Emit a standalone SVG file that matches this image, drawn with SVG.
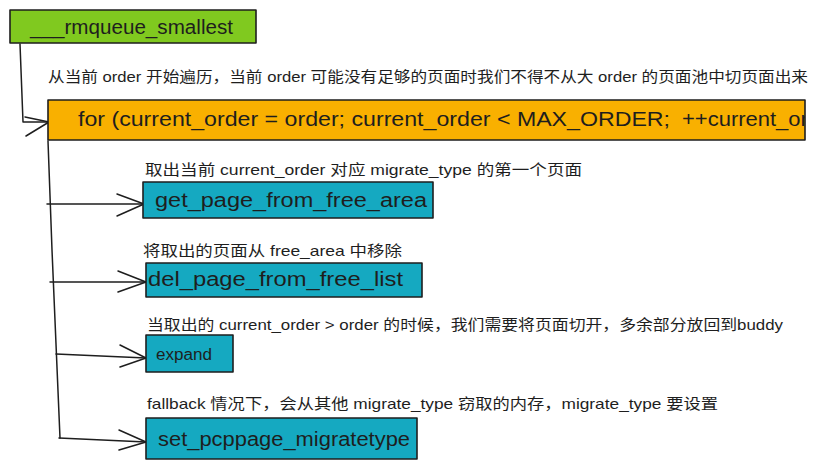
<svg xmlns="http://www.w3.org/2000/svg" width="815" height="469" viewBox="0 0 815 469">
<style>
.box{stroke:#1e1e1e;stroke-width:1.6;stroke-linejoin:round}
.green{fill:#80c91f}
.orange{fill:#f9b000}
.teal{fill:#15a9c1}
.code{font-family:"Liberation Sans","DejaVu Sans",sans-serif;font-size:20px;fill:#1e1e1e}
.small{font-size:16px}
.note{font-family:"Liberation Sans","Noto Sans CJK SC",sans-serif;font-size:15px;fill:#1e1e1e}
.conn{fill:none;stroke:#1e1e1e;stroke-width:1.5;stroke-linecap:round;stroke-linejoin:round}
</style>
<defs>
<clipPath id="clipFor"><rect x="48" y="100" width="757" height="40"/></clipPath>
</defs>
<rect width="815" height="469" fill="#ffffff"/>

<g id="connectors">
  <path class="conn" d="M20 44 L23 122 L49 122"/>
  <path class="conn" d="M25 117 L49 122 L26 136"/>
  <path class="conn" d="M48 141 L52 250 L60 438"/>
  <path class="conn" d="M47 204 L144 204"/>
  <path class="conn" d="M117 194 L144 204 L117 216"/>
  <path class="conn" d="M50 282 L146 282"/>
  <path class="conn" d="M118 271 L146 282 L118 292"/>
  <path class="conn" d="M56 354 L146 358"/>
  <path class="conn" d="M120 345 L146 358 L120 367"/>
  <path class="conn" d="M59 438 L146 442"/>
  <path class="conn" d="M119 430 L146 442 L119 450"/>
</g>

<g id="node-rmqueue-smallest">
  <rect class="box green" x="10" y="10" width="246" height="33"/>
  <text class="code" x="30" y="34" textLength="203" lengthAdjust="spacingAndGlyphs">___rmqueue_smallest</text>
</g>

<g id="note-order">
  <text class="note" x="48" y="82" textLength="760" lengthAdjust="spacingAndGlyphs">从当前 order 开始遍历，当前 order 可能没有足够的页面时我们不得不从大 order 的页面池中切页面出来</text>
</g>

<g id="node-for-loop">
  <rect class="box orange" x="48" y="100" width="757" height="40"/>
  <g clip-path="url(#clipFor)">
    <text class="code" y="126"><tspan x="78" textLength="592" lengthAdjust="spacingAndGlyphs">for (current_order = order; current_order &lt; MAX_ORDER;</tspan><tspan x="682" textLength="165" lengthAdjust="spacingAndGlyphs">++current_order)</tspan></text>
  </g>
</g>

<g id="note-get-page">
  <text class="note" x="145" y="175" textLength="437" lengthAdjust="spacingAndGlyphs">取出当前 current_order 对应 migrate_type 的第一个页面</text>
</g>
<g id="node-get-page">
  <rect class="box teal" x="143" y="182" width="290" height="36"/>
  <text class="code" x="155" y="207" textLength="272" lengthAdjust="spacingAndGlyphs">get_page_from_free_area</text>
</g>

<g id="note-del-page">
  <text class="note" x="143" y="256" textLength="259" lengthAdjust="spacingAndGlyphs">将取出的页面从 free_area 中移除</text>
</g>
<g id="node-del-page">
  <rect class="box teal" x="146" y="263" width="276" height="34"/>
  <text class="code" x="148" y="286" textLength="255" lengthAdjust="spacingAndGlyphs">del_page_from_free_list</text>
</g>

<g id="note-expand">
  <text class="note" x="147" y="330" textLength="636" lengthAdjust="spacingAndGlyphs">当取出的 current_order &gt; order 的时候，我们需要将页面切开，多余部分放回到buddy</text>
</g>
<g id="node-expand">
  <rect class="box teal" x="146" y="335" width="87" height="37"/>
  <text class="code small" x="156" y="360" textLength="56" lengthAdjust="spacingAndGlyphs">expand</text>
</g>

<g id="note-fallback">
  <text class="note" x="147" y="409" textLength="571" lengthAdjust="spacingAndGlyphs">fallback 情况下，会从其他 migrate_type 窃取的内存，migrate_type 要设置</text>
</g>
<g id="node-set-pcppage">
  <rect class="box teal" x="146" y="418" width="271" height="41"/>
  <text class="code" x="158" y="446" textLength="252" lengthAdjust="spacingAndGlyphs">set_pcppage_migratetype</text>
</g>
</svg>
